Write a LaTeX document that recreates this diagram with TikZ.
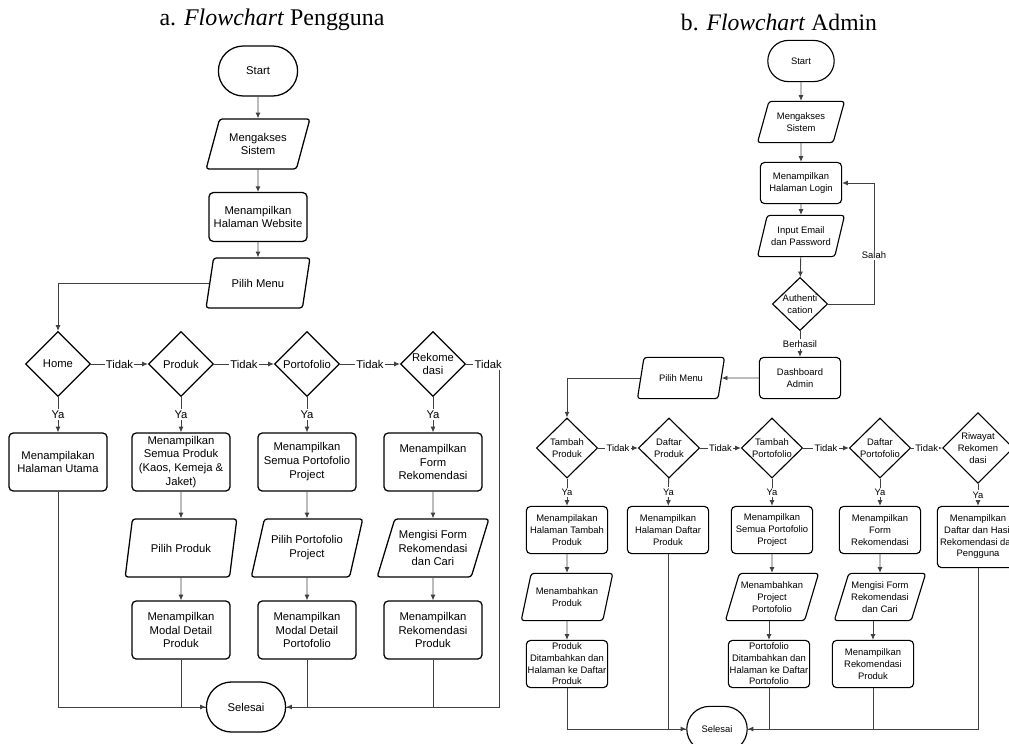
\documentclass[tikz,border=0pt]{standalone}
\usepackage{fontspec}
\setmainfont{Liberation Serif}
\setsansfont{Liberation Sans}
\usetikzlibrary{shapes.geometric,shapes.misc,arrows.meta}
\tikzset{
  base/.style={draw=black, line width=0.9pt, align=center, inner sep=1pt, font=\sffamily\fontsize{8}{9.9}\selectfont},
  kecil/.style={line width=0.8pt, font=\sffamily\fontsize{6.7}{8.3}\selectfont},
  terminal/.style={base, rounded rectangle, minimum width=2.05cm, minimum height=1.25cm},
  proses/.style={base, rectangle, rounded corners=3pt, minimum width=2.45cm, minimum height=1.45cm},
  io/.style={base, trapezium, trapezium left angle=67, trapezium right angle=113, trapezium stretches=true, rounded corners=2pt, minimum width=2.6cm, minimum height=1.25cm},
  keputusan/.style={base, diamond, aspect=1, inner sep=0pt, minimum width=1.625cm, minimum height=1.625cm},
  panah/.style={draw=black!75, line width=0.6pt, -{Latex[length=4pt,width=3.5pt]}},
  garis/.style={draw=black!75, line width=0.6pt},
  ket/.style={fill=white, inner sep=1pt, font=\sffamily\fontsize{8}{9.9}\selectfont},
  ketkecil/.style={fill=white, inner sep=1pt, font=\sffamily\fontsize{6.7}{8.3}\selectfont},
}
\begin{document}
\begin{tikzpicture}[x=0.025cm,y=-0.025cm]
\useasboundingbox (0,0) rectangle (1009,744);
\node[font=\fontsize{17}{20}\selectfont] (judul1) at (272,20) {a. \textit{Flowchart} Pengguna};
\node[font=\fontsize{16.8}{20}\selectfont] (judul2) at (779,22) {b. \textit{Flowchart} Admin};

% flowchart pengguna
\node[terminal] (start1) at (258,71) {Start};
\node[io] (akses1) at (258,144) {Mengakses\\Sistem};
\node[proses, minimum height=1.22cm] (web) at (258,217) {Menampilkan\\Halaman Website};
\node[io] (menu1) at (258,283) {Pilih Menu};
\node[keputusan] (home) at (58,364) {Home};
\node[keputusan] (produk) at (181,364) {Produk};
\node[keputusan] (porto) at (307,364) {Portofolio};
\node[keputusan] (rekom) at (433,364) {Rekome\\dasi};
\coordinate (tepi1) at (499,364);
\node[proses] (utama) at (58,462) {Menampilakan\\Halaman Utama};
\node[proses] (semuaprod) at (181,462) {Menampilkan\\Semua Produk\\(Kaos, Kemeja \&\\Jaket)};
\node[proses] (semuaporto) at (307,462) {Menampilkan\\Semua Portofolio\\Project};
\node[proses] (formrek) at (433,462) {Menampilkan\\Form\\Rekomendasi};
\node[io, minimum width=2.8cm, minimum height=1.45cm] (pilihprod) at (181,548) {Pilih Produk};
\node[io, minimum width=2.8cm, minimum height=1.45cm] (pilihporto) at (307,548) {Pilih Portofolio\\Project};
\node[io, minimum width=2.8cm, minimum height=1.45cm] (isiform) at (433,548) {Mengisi Form\\Rekomendasi\\dan Cari};
\node[proses] (detailprod) at (181,630) {Menampilkan\\Modal Detail\\Produk};
\node[proses] (detailporto) at (307,630) {Menampilkan\\Modal Detail\\Portofolio};
\node[proses] (hasilrek) at (433,630) {Menampilkan\\Rekomendasi\\Produk};
\node[terminal] (selesai1) at (246,707) {Selesai};

\draw[panah] (start1) -- (akses1);
\draw[panah] (akses1) -- (web);
\draw[panah] (web) -- (menu1);
\draw[panah] (menu1) -| (home);
\draw[panah] (home) -- node[ket]{Tidak} (produk);
\draw[panah] (produk) -- node[ket]{Tidak} (porto);
\draw[panah] (porto) -- node[ket]{Tidak} (rekom);
\draw[panah] (tepi1) |- (selesai1.east);
\draw[garis] (rekom) -- node[ket, pos=0.67]{Tidak} (tepi1);
\draw[panah] (home) -- node[ket]{Ya} (utama);
\draw[panah] (produk) -- node[ket]{Ya} (semuaprod);
\draw[panah] (porto) -- node[ket]{Ya} (semuaporto);
\draw[panah] (rekom) -- node[ket]{Ya} (formrek);
\draw[panah] (semuaprod) -- (pilihprod);
\draw[panah] (semuaporto) -- (pilihporto);
\draw[panah] (formrek) -- (isiform);
\draw[panah] (pilihprod) -- (detailprod);
\draw[panah] (pilihporto) -- (detailporto);
\draw[panah] (isiform) -- (hasilrek);
\draw[panah] (utama) |- (selesai1.west);
\draw[garis] (detailprod) |- (selesai1.west);
\draw[garis] (detailporto) |- (selesai1.east);
\draw[garis] (hasilrek) |- (selesai1.east);

% flowchart admin
\node[terminal, kecil, minimum width=1.73cm, minimum height=1.03cm] (start2) at (801,61) {Start};
\node[io, kecil, minimum width=2.18cm, minimum height=1.03cm] (akses2) at (801,122) {Mengakses\\Sistem};
\node[proses, kecil, minimum width=2.03cm, minimum height=1.03cm] (login) at (801,183) {Menampilkan\\Halaman Login};
\node[io, kecil, minimum width=2.18cm, minimum height=1.03cm] (input) at (801,236) {Input Email\\dan Password};
\node[keputusan, kecil, minimum width=1.38cm, minimum height=1.33cm] (auth) at (800,304) {Authenti\\cation};
\coordinate (salah) at (874,304);
\node[proses, kecil, minimum width=2.03cm, minimum height=1.03cm] (dash) at (800,378) {Dashboard\\Admin};
\node[io, kecil, minimum width=2.18cm, minimum height=1.03cm] (menu2) at (681,378) {Pilih Menu};
\node[keputusan, kecil, minimum width=1.53cm, minimum height=1.5cm] (tprod) at (567,448) {Tambah\\Produk};
\node[keputusan, kecil, minimum width=1.53cm, minimum height=1.5cm] (dprod) at (669,448) {Daftar\\Produk};
\node[keputusan, kecil, minimum width=1.53cm, minimum height=1.5cm] (tporto) at (772,448) {Tambah\\Portofolio};
\node[keputusan, kecil, minimum width=1.53cm, minimum height=1.5cm] (dporto) at (880,448) {Daftar\\Portofolio};
\node[keputusan, kecil, minimum width=1.53cm, minimum height=1.5cm] (riwayat) at (978,448) {Riwayat\\Rekomen\\dasi};
\node[proses, kecil, minimum width=2.03cm, minimum height=1.18cm] (hlmtambah) at (567,530) {Menampilakan\\Halaman Tambah\\Produk};
\node[proses, kecil, minimum width=2.03cm, minimum height=1.18cm] (hlmdaftar) at (668,530) {Menampilkan\\Halaman Daftar\\Produk};
\node[proses, kecil, minimum width=2.03cm, minimum height=1.18cm] (semuaporto2) at (772,530) {Menampilkan\\Semua Portofolio\\Project};
\node[proses, kecil, minimum width=2.03cm, minimum height=1.18cm] (form2) at (880,530) {Menampilkan\\Form\\Rekomendasi};
\node[proses, kecil, minimum width=2.03cm, minimum height=1.53cm] (riwayatbox) at (978,537) {Menampilkan\\Daftar dan Hasil\\Rekomendasi dari\\Pengguna};
\node[io, kecil, minimum width=2.3cm, minimum height=1.18cm] (tambahprod) at (567,597) {Menambahkan\\Produk};
\node[io, kecil, minimum width=2.3cm, minimum height=1.18cm] (tambahporto) at (772,597) {Menambahkan\\Project\\Portofolio};
\node[io, kecil, minimum width=2.3cm, minimum height=1.18cm] (isiform2) at (880,597) {Mengisi Form\\Rekomendasi\\dan Cari};
\node[proses, kecil, minimum width=2.03cm, minimum height=1.18cm] (prodok) at (567,664) {Produk\\Ditambahkan dan\\Halaman ke Daftar\\Produk};
\node[proses, kecil, minimum width=2.03cm, minimum height=1.18cm] (portook) at (769,664) {Portofolio\\Ditambahkan dan\\Halaman ke Daftar\\Portofolio};
\node[proses, kecil, minimum width=2.03cm, minimum height=1.18cm] (hasilrek2) at (873,664) {Menampilkan\\Rekomendasi\\Produk};
\node[terminal, kecil, minimum width=1.58cm, minimum height=1.13cm] (selesai2) at (717,729) {Selesai};

\draw[panah] (start2) -- (akses2);
\draw[panah] (akses2) -- (login);
\draw[panah] (login) -- (input);
\draw[panah] (input) -- (auth);
\draw[panah] (auth) -- node[ketkecil]{Berhasil} (dash);
\draw[panah] (auth) -- (salah) |- node[ketkecil, pos=0.2]{Salah} (login);
\draw[panah] (dash) -- (menu2);
\draw[panah] (menu2) -| (tprod);
\draw[panah] (tprod) -- node[ketkecil]{Tidak} (dprod);
\draw[panah] (dprod) -- node[ketkecil]{Tidak} (tporto);
\draw[panah] (tporto) -- node[ketkecil]{Tidak} (dporto);
\draw[panah] (dporto) -- node[ketkecil]{Tidak} (riwayat);
\draw[panah] (tprod) -- node[ketkecil]{Ya} (hlmtambah);
\draw[panah] (dprod) -- node[ketkecil]{Ya} (hlmdaftar);
\draw[panah] (tporto) -- node[ketkecil]{Ya} (semuaporto2);
\draw[panah] (dporto) -- node[ketkecil]{Ya} (form2);
\draw[panah] (riwayat) -- node[ketkecil]{Ya} (riwayatbox);
\draw[panah] (hlmtambah) -- (tambahprod);
\draw[panah] (semuaporto2) -- (tambahporto);
\draw[panah] (form2) -- (isiform2);
\draw[panah] (tambahprod) -- (prodok);
\draw[panah] (tambahporto.south -| portook.north) -- (portook.north);
\draw[panah] (isiform2.south -| hasilrek2.north) -- (hasilrek2.north);
\draw[panah] (prodok) |- (selesai2.west);
\draw[garis] (hlmdaftar) |- (selesai2.west);
\draw[panah] (riwayatbox) |- (selesai2.east);
\draw[garis] (portook) |- (selesai2.east);
\draw[garis] (hasilrek2) |- (selesai2.east);
\end{tikzpicture}
\end{document}
